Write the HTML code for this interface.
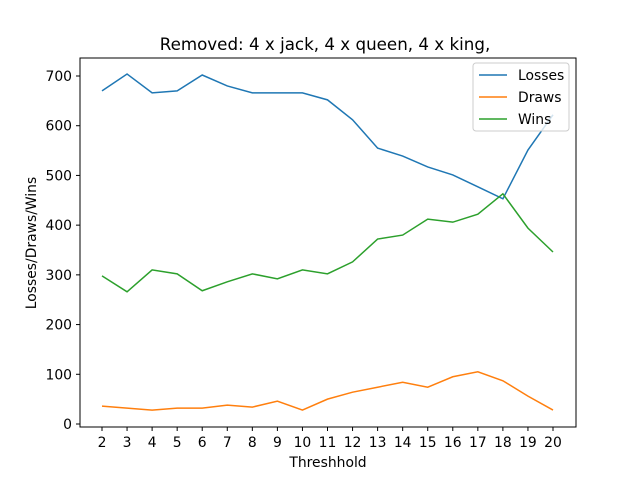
<!DOCTYPE html>
<html><head><meta charset="utf-8"><style>
body{margin:0;background:#fff;}
svg text{font-family:"DejaVu Sans","Liberation Sans",sans-serif;}
</style></head><body>
<svg id="chart" width="640" height="480" xmlns="http://www.w3.org/2000/svg">
<rect width="640" height="480" fill="#fff"/>
<text x="325" y="50" text-anchor="middle" font-size="16.7">Removed: 4 x jack, 4 x queen, 4 x king,</text>
<g id="plot"></g>
<rect x="80" y="58" width="496" height="369" fill="none" stroke="#000" stroke-width="1"/>
<text x="328" y="467" text-anchor="middle" font-size="13.9">Threshhold</text>
<text transform="translate(36,243) rotate(-90)" text-anchor="middle" font-size="13.9">Losses/Draws/Wins</text>
<g>
<rect x="473" y="63" width="96" height="68" rx="3" fill="#fff" fill-opacity="0.8" stroke="#ccc"/>
<line x1="479" y1="75" x2="507" y2="75" stroke="#1f77b4" stroke-width="1.5"/>
<text x="518" y="80" font-size="13.9">Losses</text>
<line x1="479" y1="97" x2="507" y2="97" stroke="#ff7f0e" stroke-width="1.5"/>
<text x="518" y="102" font-size="13.9">Draws</text>
<line x1="479" y1="119" x2="507" y2="119" stroke="#2ca02c" stroke-width="1.5"/>
<text x="518" y="124" font-size="13.9">Wins</text>
</g>
</svg>
<script>
const categories=[2,3,4,5,6,7,8,9,10,11,12,13,14,15,16,17,18,19,20];
const losses=[670,704,666,670,702,680,666,666,666,652,612,555,539,517,501,477,453,551,622];
const draws=[36,32,28,32,32,38,34,46,28,50,64,74,84,74,95,105,87,56,28];
const wins=[298,266,310,302,268,286,302,292,310,302,326,372,380,412,406,422,463,394,346];
const yTicks=[0,100,200,300,400,500,600,700];
const NS="http://www.w3.org/2000/svg";
const g=document.getElementById('plot');
function xs(c){return 102+(c-2)*(553-102)/18;}
function ys(v){return 424-v*(424-76)/700;}
function mk(t,a){const e=document.createElementNS(NS,t);for(const k in a)e.setAttribute(k,a[k]);g.appendChild(e);return e;}
categories.forEach(c=>{
 const x=xs(c);
 const l=mk('line',{x1:x,y1:427,x2:x,y2:431,stroke:'#000'});
 
 
 const t=mk('text',{x:x,y:447,'text-anchor':'middle','font-size':'13.9'});
 t.textContent=c;
 
 
});
yTicks.forEach(v=>{
 const y=ys(v);
 const l=mk('line',{x1:76,y1:y,x2:80,y2:y,stroke:'#000'});
 
 
 const t=mk('text',{x:72,y:y+5,'text-anchor':'end','font-size':'13.9'});
 t.textContent=v;
 
 
});
[[losses,'#1f77b4','losses-line'],[draws,'#ff7f0e','draws-line'],[wins,'#2ca02c','wins-line']].forEach(([d,col,n])=>{
 const p=mk('polyline',{points:d.map((v,i)=>xs(categories[i])+','+ys(v)).join(' '),fill:'none',stroke:col,'stroke-width':'1.5'});
 
 
});
</script>
</body></html>
